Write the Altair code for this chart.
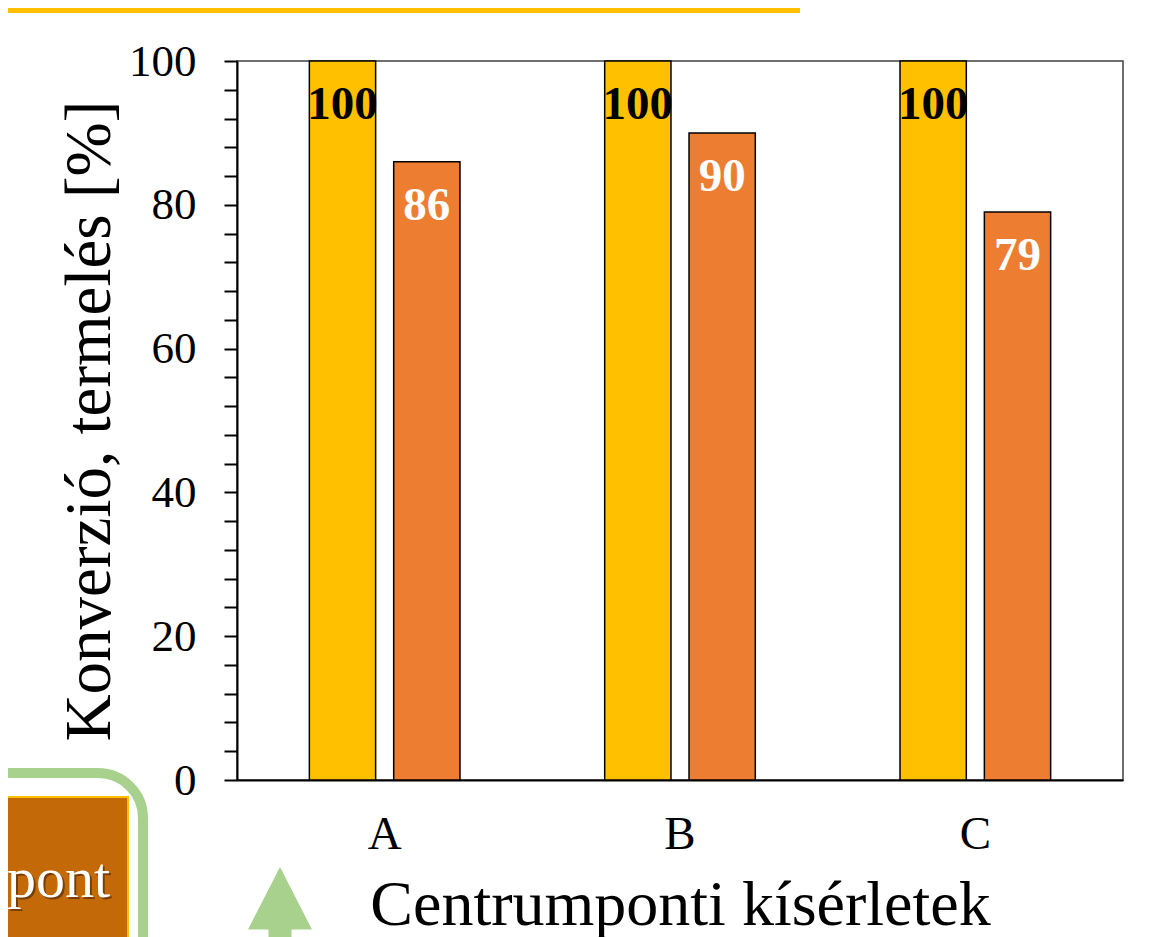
import altair as alt
import pandas as pd

categories = ["A", "B", "C"]
series_names = ["Konverzió", "Termelés"]
conversion = [100, 100, 100]
production = [86, 90, 79]
y_tick_values = list(range(0, 101, 4))

rows = []
for i, c in enumerate(categories):
    rows.append({"cat": c, "series": series_names[0], "value": conversion[i]})
    rows.append({"cat": c, "series": series_names[1], "value": production[i]})
df = pd.DataFrame(rows)

FONT = "Liberation Serif"
W, H = 886, 719
PAD_L, PAD_T = 229, 53
PAD_R = 1148 - PAD_L - W
PAD_B = 929 - PAD_T - H

x_enc = alt.X(
    "cat:N",
    sort=categories,
    scale=alt.Scale(paddingInner=0.49, paddingOuter=0.245),
    axis=alt.Axis(
        title="Centrumponti kísérletek",
        labelAngle=0,
        ticks=False,
        labelFont=FONT,
        labelFontSize=47,
        labelColor="black",
        labelPadding=31,
        domainColor="black",
        domainWidth=2,
        titleFont=FONT,
        titleFontSize=64,
        titleFontWeight="normal",
        titleColor="black",
        titlePadding=16,
    ),
)
xoff_enc = alt.XOffset(
    "series:N", sort=series_names, scale=alt.Scale(paddingInner=0.214, paddingOuter=0)
)
y_enc = alt.Y(
    "value:Q",
    scale=alt.Scale(domain=[0, 100], nice=False),
    axis=alt.Axis(
        title="Konverzió, termelés [%]",
        values=y_tick_values,
        tickCount=60,
        labelExpr="datum.value % 20 == 0 ? datum.label : ''",
        labelOverlap=False,
        labelFlush=False,
        grid=False,
        labelFont=FONT,
        labelFontSize=45,
        labelColor="black",
        labelPadding=28,
        tickSize=13,
        tickWidth=2,
        tickColor="black",
        domainColor="black",
        domainWidth=2,
        titleFont=FONT,
        titleFontSize=65,
        titleFontWeight="normal",
        titleColor="black",
        titlePadding=5,
    ),
)

bars = alt.Chart(df).mark_bar(stroke="black", strokeWidth=1.5).encode(
    x=x_enc,
    xOffset=xoff_enc,
    y=y_enc,
    color=alt.Color(
        "series:N",
        scale=alt.Scale(domain=series_names, range=["#FFC000", "#ED7D31"]),
        legend=None,
    ),
)

labels = alt.Chart(df).mark_text(
    font=FONT, fontSize=47, fontWeight="bold", dy=58, baseline="alphabetic", align="center"
).encode(
    x=alt.X("cat:N", sort=categories),
    xOffset=alt.XOffset("series:N", sort=series_names),
    y=alt.Y("value:Q"),
    text=alt.Text("value:Q"),
    color=alt.condition(
        alt.datum.series == series_names[0], alt.value("black"), alt.value("white")
    ),
)

deco = pd.DataFrame({"k": [0]})

top_band = alt.Chart(deco).mark_rect(color="#FFC000").encode(
    x=alt.value(-PAD_L), x2=alt.value(563), y=alt.value(-PAD_T), y2=alt.value(-PAD_T + 5)
)

green_box = alt.Chart(deco).mark_rect(
    filled=False, stroke="#A9D18E", strokeWidth=10, cornerRadius=45
).encode(x=alt.value(-400), x2=alt.value(-94), y=alt.value(712), y2=alt.value(1100))

orange_box = alt.Chart(deco).mark_rect(
    color="#C46908", stroke="#FFC000", strokeWidth=2
).encode(x=alt.value(-400), x2=alt.value(-109), y=alt.value(736), y2=alt.value(1100))

pont_shadow = alt.Chart(deco).mark_text(
    text="pont", font=FONT, fontSize=58, align="right", baseline="alphabetic",
    color="#3a1a00", opacity=0.55
).encode(x=alt.value(-125), y=alt.value(838))

pont = alt.Chart(deco).mark_text(
    text="pont", font=FONT, fontSize=58, align="right", baseline="alphabetic", color="white"
).encode(x=alt.value(-127), y=alt.value(836))

arrow = alt.Chart(deco).mark_point(
    shape="M0,-1L-1,0.95L-0.36,0.95L-0.36,2L0.36,2L0.36,0.95L1,0.95Z",
    filled=True, size=4096, color="#A9D18E", opacity=1, strokeWidth=0
).encode(x=alt.value(43), y=alt.value(838))

chart = (
    alt.layer(top_band, green_box, orange_box, pont_shadow, pont, arrow, bars, labels)
    .properties(
        width=W,
        height=H,
        autosize=alt.AutoSizeParams(type="none"),
        padding={"left": PAD_L, "top": PAD_T, "right": PAD_R, "bottom": PAD_B},
        background="white",
    )
    .configure_view(stroke="#404040", strokeWidth=1.5)
)

chart.save("out.html", embed_options={"renderer": "svg", "actions": False})
